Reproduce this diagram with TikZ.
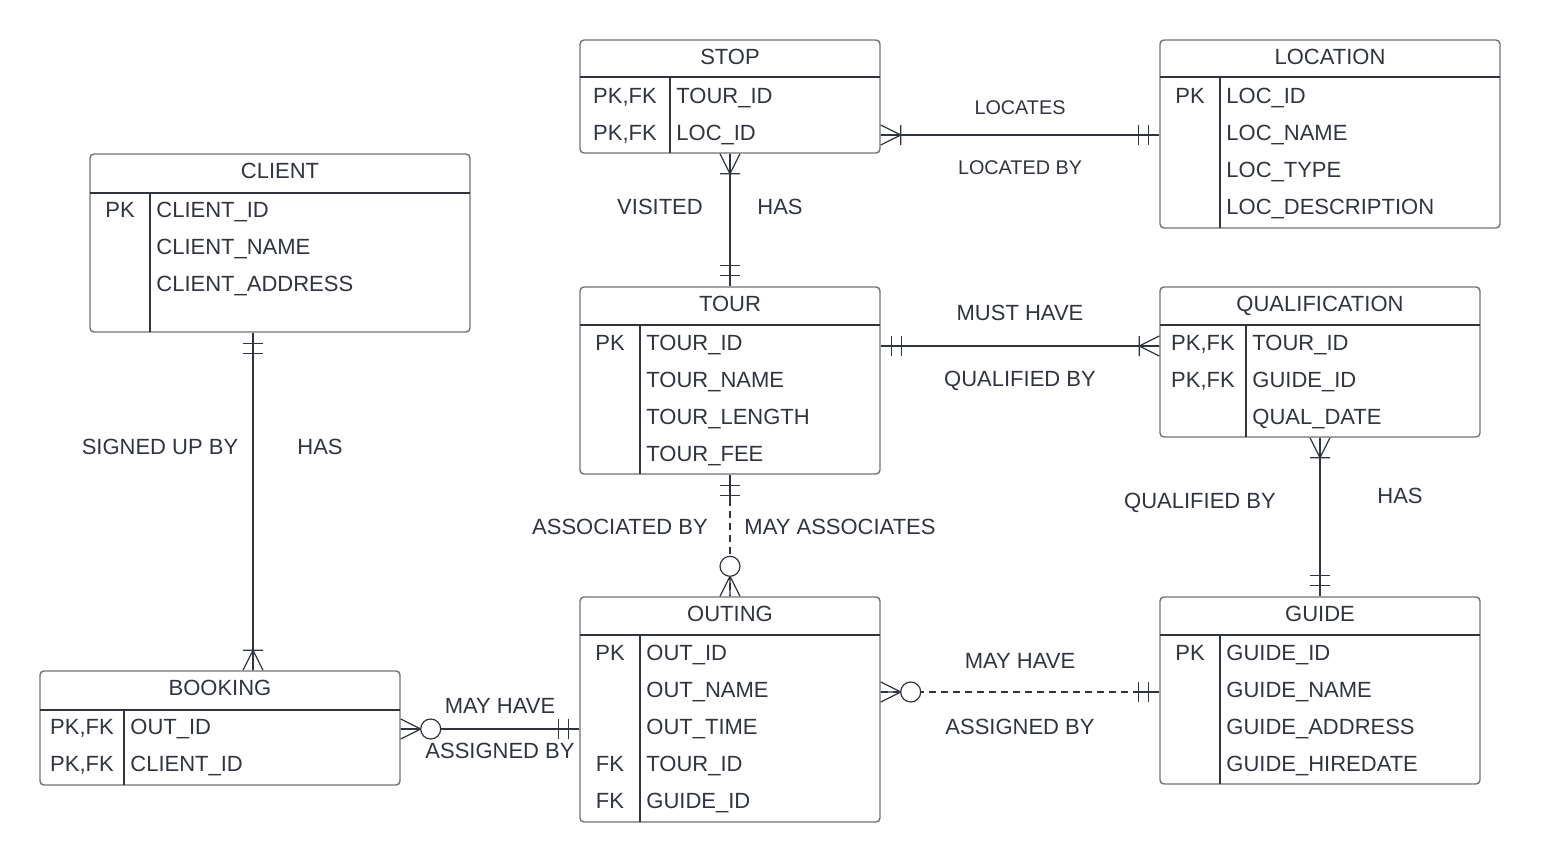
\documentclass[tikz,border=0pt]{standalone}
\usepackage{fontspec}
\setmainfont{Liberation Sans}
\usetikzlibrary{fit}
\definecolor{ink}{HTML}{30353D}
\definecolor{frame}{HTML}{6E7278}
\tikzset{
  entity/.style={draw=frame, line width=0.7pt, rounded corners=2pt, inner sep=0pt},
  sep/.style={draw=ink, line width=0.6pt},
  txt/.style={text=ink, font=\fontsize{11}{12}\selectfont, inner sep=0pt, text height=7.9pt, text depth=0pt},
  small/.style={txt, font=\fontsize{9.9}{11}\selectfont, text height=7.1pt},
  fld/.style={txt, anchor=west},
  rel/.style={draw=ink, line width=0.6pt},
  opt/.style={rel, dash pattern=on 3.6pt off 2.4pt},
  pics/twobar/.style={code={\draw[rel] (0,0) -- (24,0) (11,-10) -- (11,10) (21,-10) -- (21,10);}},
  pics/onemany/.style={code={\draw[rel] (0,-10) -- (20,0) -- (0,10) (0,0) -- (20,0) (20,-10) -- (20,10);}},
  pics/zeromany/.style={code={\draw[rel] (0,-10) -- (20,0) -- (0,10) (0,0) -- (20,0); \draw[rel, fill=white] (30,0) circle (5pt);}},
}
\begin{document}
\begin{tikzpicture}[x=0.5pt, y=-0.5pt]
\useasboundingbox (0,0) rectangle (1560,862);
% entities
\node[entity, fit={(580,40) (880,153)}] (stop) {};
\draw[sep] (580,77) -- (880,77); \draw[sep] (670,77) -- (670,153);
\node[txt] (stop-t) at (730,57) {STOP};
\node[txt] (stop-k1) at (625,96) {PK,FK};
\node[txt] (stop-k2) at (625,133) {PK,FK};
\node[fld] (stop-f1) at (676,96) {TOUR\_ID};
\node[fld] (stop-f2) at (676,133) {LOC\_ID};

\node[entity, fit={(1160,40) (1500,228)}] (location) {};
\draw[sep] (1160,77) -- (1500,77); \draw[sep] (1220,77) -- (1220,228);
\node[txt] (location-t) at (1330,57) {LOCATION};
\node[txt] (location-k1) at (1190,96) {PK};
\node[fld] (location-f1) at (1226,96) {LOC\_ID};
\node[fld] (location-f2) at (1226,133) {LOC\_NAME};
\node[fld] (location-f3) at (1226,170) {LOC\_TYPE};
\node[fld] (location-f4) at (1226,207) {LOC\_DESCRIPTION};

\node[entity, fit={(90,154) (470,332)}] (client) {};
\draw[sep] (90,193) -- (470,193); \draw[sep] (150,193) -- (150,332);
\node[txt] (client-t) at (280,171) {CLIENT};
\node[txt] (client-k1) at (120,210) {PK};
\node[fld] (client-f1) at (156,210) {CLIENT\_ID};
\node[fld] (client-f2) at (156,247) {CLIENT\_NAME};
\node[fld] (client-f3) at (156,284) {CLIENT\_ADDRESS};

\node[entity, fit={(580,287) (880,474)}] (tour) {};
\draw[sep] (580,325) -- (880,325); \draw[sep] (640,325) -- (640,474);
\node[txt] (tour-t) at (730,304) {TOUR};
\node[txt] (tour-k1) at (610,343) {PK};
\node[fld] (tour-f1) at (646,343) {TOUR\_ID};
\node[fld] (tour-f2) at (646,380) {TOUR\_NAME};
\node[fld] (tour-f3) at (646,417) {TOUR\_LENGTH};
\node[fld] (tour-f4) at (646,454) {TOUR\_FEE};

\node[entity, fit={(1160,287) (1480,437)}] (qual) {};
\draw[sep] (1160,325) -- (1480,325); \draw[sep] (1246,325) -- (1246,437);
\node[txt] (qual-t) at (1320,304) {QUALIFICATION};
\node[txt] (qual-k1) at (1203,343) {PK,FK};
\node[txt] (qual-k2) at (1203,380) {PK,FK};
\node[fld] (qual-f1) at (1252,343) {TOUR\_ID};
\node[fld] (qual-f2) at (1252,380) {GUIDE\_ID};
\node[fld] (qual-f3) at (1252,417) {QUAL\_DATE};

\node[entity, fit={(580,597) (880,822)}] (outing) {};
\draw[sep] (580,635) -- (880,635); \draw[sep] (640,635) -- (640,822);
\node[txt] (outing-t) at (730,614) {OUTING};
\node[txt] (outing-k1) at (610,653) {PK};
\node[txt] (outing-k4) at (610,764) {FK};
\node[txt] (outing-k5) at (610,801) {FK};
\node[fld] (outing-f1) at (646,653) {OUT\_ID};
\node[fld] (outing-f2) at (646,690) {OUT\_NAME};
\node[fld] (outing-f3) at (646,727) {OUT\_TIME};
\node[fld] (outing-f4) at (646,764) {TOUR\_ID};
\node[fld] (outing-f5) at (646,801) {GUIDE\_ID};

\node[entity, fit={(1160,597) (1480,784)}] (guide) {};
\draw[sep] (1160,635) -- (1480,635); \draw[sep] (1220,635) -- (1220,784);
\node[txt] (guide-t) at (1320,614) {GUIDE};
\node[txt] (guide-k1) at (1190,653) {PK};
\node[fld] (guide-f1) at (1226,653) {GUIDE\_ID};
\node[fld] (guide-f2) at (1226,690) {GUIDE\_NAME};
\node[fld] (guide-f3) at (1226,727) {GUIDE\_ADDRESS};
\node[fld] (guide-f4) at (1226,764) {GUIDE\_HIREDATE};

\node[entity, fit={(40,671) (400,785)}] (booking) {};
\draw[sep] (40,710) -- (400,710); \draw[sep] (124,710) -- (124,785);
\node[txt] (booking-t) at (220,688) {BOOKING};
\node[txt] (booking-k1) at (82,727) {PK,FK};
\node[txt] (booking-k2) at (82,764) {PK,FK};
\node[fld] (booking-f1) at (130,727) {OUT\_ID};
\node[fld] (booking-f2) at (130,764) {CLIENT\_ID};

% relationships
\draw[rel] (stop.east |- 0,135) -- (location.west |- 0,135);
\draw[rel] (stop.south) -- (tour.north);
\draw[rel] (tour.east |- 0,346) -- (qual.west |- 0,346);
\draw[rel] (qual.south) -- (guide.north);
\draw[rel] (client.south -| 253,0) -- (booking.north -| 253,0);
\draw[opt] (tour.south) -- (outing.north);
\draw[rel] (booking.east |- 0,729) -- (outing.west |- 0,729);
\draw[opt] (outing.east |- 0,692) -- (guide.west |- 0,692);

\pic at (stop.east |- 0,135) {onemany};
\pic[rotate=180] at (location.west |- 0,135) {twobar};
\pic[rotate=-90] at (stop.south) {onemany};
\pic[rotate=90] at (tour.north) {twobar};
\pic at (tour.east |- 0,346) {twobar};
\pic[rotate=180] at (qual.west |- 0,346) {onemany};
\pic[rotate=-90] at (qual.south) {onemany};
\pic[rotate=90] at (guide.north) {twobar};
\pic[rotate=-90] at (client.south -| 253,0) {twobar};
\pic[rotate=90] at (booking.north -| 253,0) {onemany};
\pic[rotate=-90] at (tour.south) {twobar};
\pic[rotate=90] at (outing.north) {zeromany};
\pic at (booking.east |- 0,729) {zeromany};
\pic[rotate=180] at (outing.west |- 0,729) {twobar};
\pic at (outing.east |- 0,692) {zeromany};
\pic[rotate=180] at (guide.west |- 0,692) {twobar};

% labels
\node[small] (l-locates) at (1020,107) {LOCATES};
\node[small] (l-locatedby) at (1020,167) {LOCATED BY};
\node[txt] (l-visited) at (660,207) {VISITED};
\node[txt] (l-has1) at (780,207) {HAS};
\node[txt] (l-musthave) at (1020,313) {MUST HAVE};
\node[txt] (l-qualby1) at (1020,379) {QUALIFIED BY};
\node[txt] (l-qualby2) at (1200,501) {QUALIFIED BY};
\node[txt] (l-has2) at (1400,496) {HAS};
\node[txt] (l-signed) at (160,447) {SIGNED UP BY};
\node[txt] (l-has3) at (320,447) {HAS};
\node[txt] (l-assocby) at (620,527) {ASSOCIATED BY};
\node[txt] (l-mayassoc) at (840,527) {MAY ASSOCIATES};
\node[txt] (l-mayhave1) at (500,706) {MAY HAVE};
\node[txt] (l-assigned1) at (500,751) {ASSIGNED BY};
\node[txt] (l-mayhave2) at (1020,661) {MAY HAVE};
\node[txt] (l-assigned2) at (1020,727) {ASSIGNED BY};
\end{tikzpicture}
\end{document}
